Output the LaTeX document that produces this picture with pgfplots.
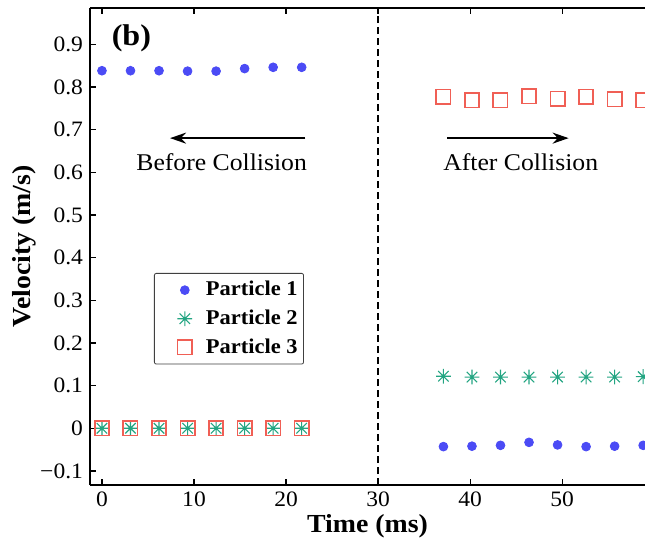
\documentclass[border=0pt]{standalone}
\usepackage{fontspec}
\setmainfont{Liberation Serif}[FakeStretch=1.07]
\usepackage{pgfplots}
\pgfplotsset{compat=1.18}
\usetikzlibrary{arrows.meta}

\definecolor{pone}{RGB}{75,75,245}
\definecolor{ptwo}{RGB}{35,165,130}
\definecolor{pthree}{RGB}{240,95,85}

% MATLAB-style eight-armed asterisk
\pgfdeclareplotmark{ast}{%
  \pgfpathmoveto{\pgfqpoint{-\pgfplotmarksize}{0pt}}%
  \pgfpathlineto{\pgfqpoint{\pgfplotmarksize}{0pt}}%
  \pgfpathmoveto{\pgfqpoint{0pt}{-\pgfplotmarksize}}%
  \pgfpathlineto{\pgfqpoint{0pt}{\pgfplotmarksize}}%
  \pgfpathmoveto{\pgfqpoint{-0.707\pgfplotmarksize}{-0.707\pgfplotmarksize}}%
  \pgfpathlineto{\pgfqpoint{0.707\pgfplotmarksize}{0.707\pgfplotmarksize}}%
  \pgfpathmoveto{\pgfqpoint{-0.707\pgfplotmarksize}{0.707\pgfplotmarksize}}%
  \pgfpathlineto{\pgfqpoint{0.707\pgfplotmarksize}{-0.707\pgfplotmarksize}}%
  \pgfusepathqstroke}

\begin{document}
\begin{tikzpicture}
\begin{axis}[
  name=ax,
  scale only axis,
  width=277.5pt,
  height=238.5pt,
  xmin=-1.3, xmax=59.0,
  ymin=-0.133, ymax=0.985,
  axis x line*=box,
  axis y line*=left,
  axis line style={line width=0.9pt},
  xtick={0,10,20,30,40,50},
  ytick={-0.1,0,0.1,0.2,0.3,0.4,0.5,0.6,0.7,0.8,0.9},
  yticklabels={−0.1,0,0.1,0.2,0.3,0.4,0.5,0.6,0.7,0.8,0.9},
  xticklabels={0,10,20,30,40,50},
  tick align=inside,
  major tick length=3pt,
  tick style={line width=0.6pt, black},
  tick label style={font=\fontsize{11}{12}\selectfont},
  xlabel={\textbf{Time (ms)}},
  ylabel={\textbf{Velocity (m/s)}},
  label style={font=\fontsize{13}{14}\selectfont},
  xlabel style={yshift=3pt},
  ylabel style={yshift=-5pt},
  clip marker paths=true,
  legend cell align=left,
  legend image code/.code={%
    \path[draw=none] (0cm,0cm) -- (0.8cm,0cm);
    \draw[#1] plot[only marks] coordinates {(0.5cm,0cm)};},
  legend style={
    at={(axis cs:5.65,0.364)}, anchor=north west,
    draw=black!75, rounded corners=1pt,
    font=\fontsize{10.5}{12}\selectfont\bfseries,
    row sep=1.5pt, inner xsep=1pt, inner ysep=2pt,
  },
]
% Particle 1
\addplot[only marks, mark=*, mark size=2.2pt, color=pone] table {
x y
0 0.838
3.1 0.838
6.2 0.838
9.3 0.837
12.4 0.837
15.5 0.843
18.6 0.846
21.7 0.846
37.1 -0.043
40.2 -0.042
43.3 -0.040
46.4 -0.033
49.5 -0.039
52.6 -0.043
55.7 -0.042
58.8 -0.040
};
\addlegendentry{Particle 1}

% Particle 2
\addplot[only marks, mark=ast, mark size=3.7pt, color=ptwo, mark options={line width=0.55pt}] table {
x y
0 0
3.1 0
6.2 0
9.3 0
12.4 0
15.5 0
18.6 0
21.7 0
37.1 0.122
40.2 0.120
43.3 0.120
46.4 0.120
49.5 0.120
52.6 0.120
55.7 0.120
58.8 0.121
};
\addlegendentry{Particle 2}

% Particle 3
\addplot[only marks, mark=square, mark size=3.6pt, color=pthree, mark options={line width=0.8pt}] table {
x y
0 0
3.1 0
6.2 0
9.3 0
12.4 0
15.5 0
18.6 0
21.7 0
37.1 0.777
40.2 0.769
43.3 0.769
46.4 0.778
49.5 0.772
52.6 0.777
55.7 0.771
58.8 0.769
};
\addlegendentry{Particle 3}

% collision instant
\draw[black, line width=1pt, dash pattern=on 3.5pt off 2pt]
  (axis cs:30,-0.133) -- (axis cs:30,0.985);

\draw[-{Stealth[length=8pt,width=5.5pt]}, line width=1pt]
  (axis cs:22.1,0.68) -- (axis cs:7.4,0.68);
\node[font=\fontsize{12}{14}\selectfont] at (axis cs:13.0,0.624) {Before Collision};

\draw[-{Stealth[length=8pt,width=5.5pt]}, line width=1pt]
  (axis cs:37.5,0.68) -- (axis cs:50.7,0.68);
\node[font=\fontsize{12}{14}\selectfont] at (axis cs:45.5,0.624) {After Collision};

\node[font=\fontsize{15}{16}\selectfont\bfseries, anchor=west] at (axis cs:0.3,0.915) {(b)};
\end{axis}
\pgfresetboundingbox
\useasboundingbox ([xshift=-45pt,yshift=-28pt]ax.south west) rectangle ([yshift=4pt]ax.north east);
\end{tikzpicture}
\end{document}
